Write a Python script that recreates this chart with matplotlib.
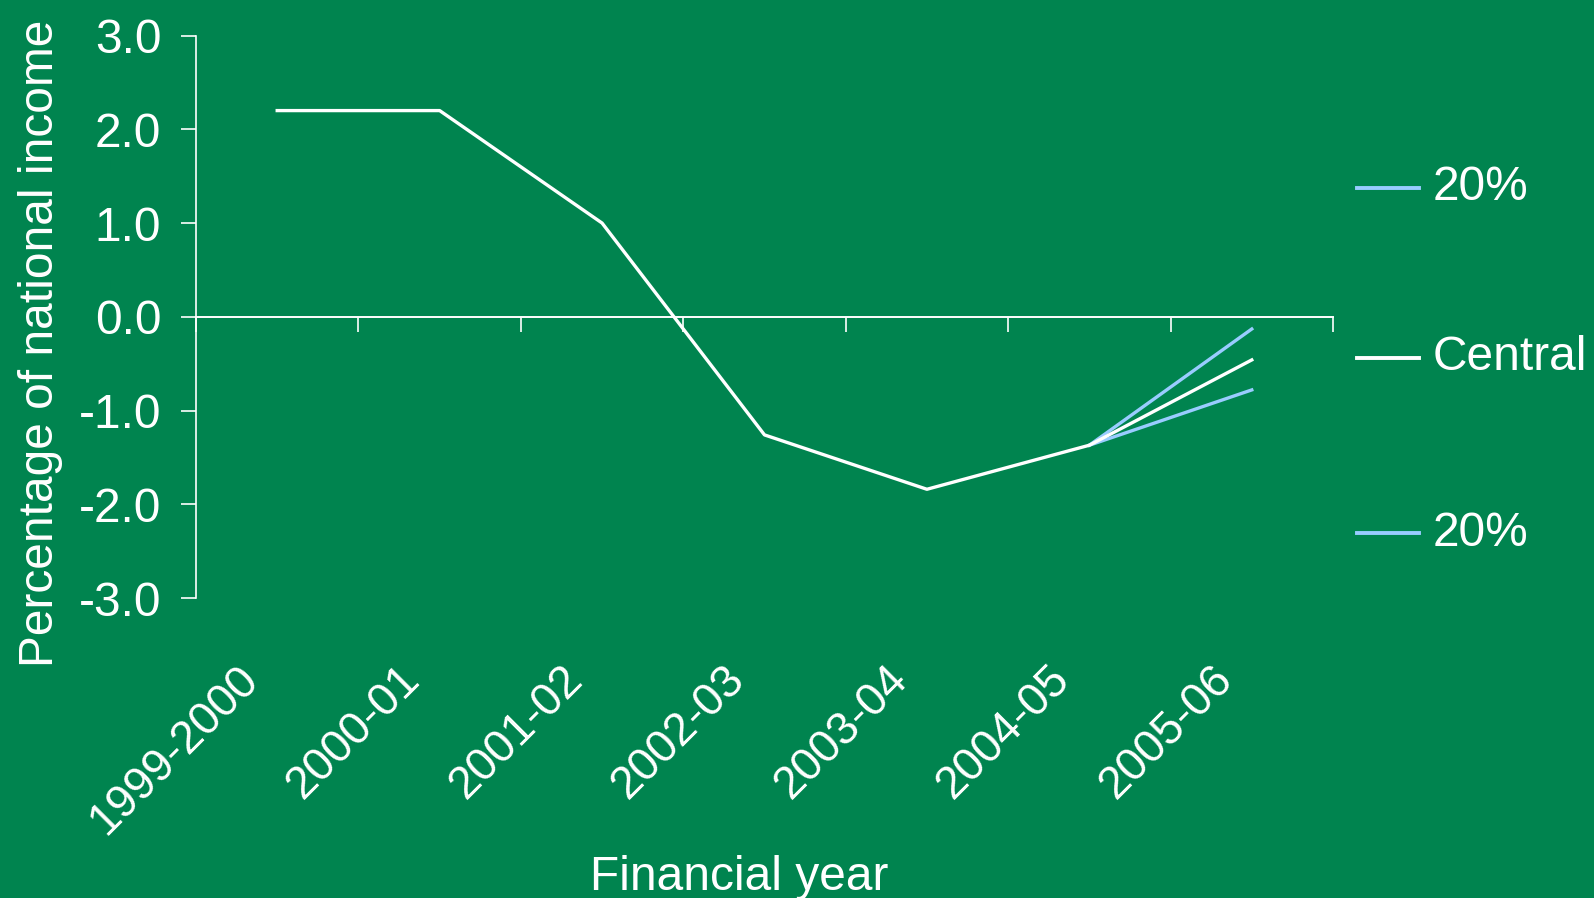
import numpy as np
import matplotlib.pyplot as plt
from matplotlib.lines import Line2D
from matplotlib.transforms import ScaledTranslation

# -----------------------------
# data
# -----------------------------
years = ["1999-2000", "2000-01", "2001-02", "2002-03", "2003-04", "2004-05", "2005-06"]
central = [2.2, 2.2, 1.0, -1.26, -1.84, -1.37, -0.46]
upper_tail = [-1.37, -0.13]     # 2004-05 -> 2005-06
lower_tail = [-1.37, -0.78]
y_ticks = [-3.0, -2.0, -1.0, 0.0, 1.0, 2.0, 3.0]

legend_labels = ["20%", "Central", "20%"]
legend_colors = ["#99ccff", "white", "#99ccff"]
legend_y = [188, 358, 533]      # pixel rows from the top

bg = "#00844f"
blue = "#99ccff"
plt.rcParams['font.family'] = ['Liberation Sans', 'DejaVu Sans']
fs = 34.5

fig = plt.figure(figsize=(15.94, 8.98), dpi=100, facecolor=bg)
ax = fig.add_axes([196 / 1594, 300 / 898, 1137 / 1594, 562.4 / 898])
ax.set_facecolor(bg)

x = np.arange(len(years))
ax.plot(x, central, color="white", lw=2.4, zorder=3)
ax.plot(x[-2:], upper_tail, color=blue, lw=2.4, zorder=2)
ax.plot(x[-2:], lower_tail, color=blue, lw=2.4, zorder=2)

ax.set_xlim(-0.5, len(years) - 0.5)
ax.set_ylim(-3, 3)

# y axis
ax.set_yticks(y_ticks)
ax.set_yticklabels([f"{v:.1f}" for v in y_ticks])
ax.tick_params(axis="y", colors="white", labelcolor="white", labelsize=fs,
               direction="out", length=11, width=1.2, pad=14)
for s in ["top", "right", "bottom"]:
    ax.spines[s].set_visible(False)
ax.spines["left"].set_color("white")
ax.spines["left"].set_linewidth(1.2)

# category labels at the bottom
ax.set_xticks([])
ax.set_xticks(x, minor=True)
ax.set_xticklabels(years, minor=True, rotation=45, ha="right", va="center",
                   rotation_mode="anchor")
ax.tick_params(axis="x", which="minor", length=0, labelsize=33, labelcolor="white", pad=54)
shift = ScaledTranslation(-0.26, 0, fig.dpi_scale_trans)
for lab in ax.get_xticklabels(minor=True):
    lab.set_transform(lab.get_transform() + shift)

# zero line with boundary ticks
zero = ax.secondary_xaxis(0.5)
zero.set_xticks(np.arange(-0.5, len(years), 1.0))
zero.set_xticklabels([])
zero.tick_params(colors="white", direction="in", length=11, width=1.2)
for sp in zero.spines.values():
    sp.set_color("white")
    sp.set_linewidth(1.4)

ax.set_ylabel("Percentage of national income", fontsize=fs, color="white")
ax.yaxis.set_label_coords(-0.117, 0.453)
fig.text(739 / 1594, 1 - 877 / 898, "Financial year", fontsize=fs, color="white",
         ha="center", va="center")

# legend on the right
for lab, col, yp in zip(legend_labels, legend_colors, legend_y):
    yf = 1 - yp / 898
    fig.add_artist(Line2D([1357 / 1594, 1419 / 1594], [yf, yf], color=col, lw=2.8))
    fig.text(1433 / 1594, yf, lab, fontsize=fs, color="white", ha="left", va="center")

fig.savefig("out.png", dpi=100, facecolor=bg)
